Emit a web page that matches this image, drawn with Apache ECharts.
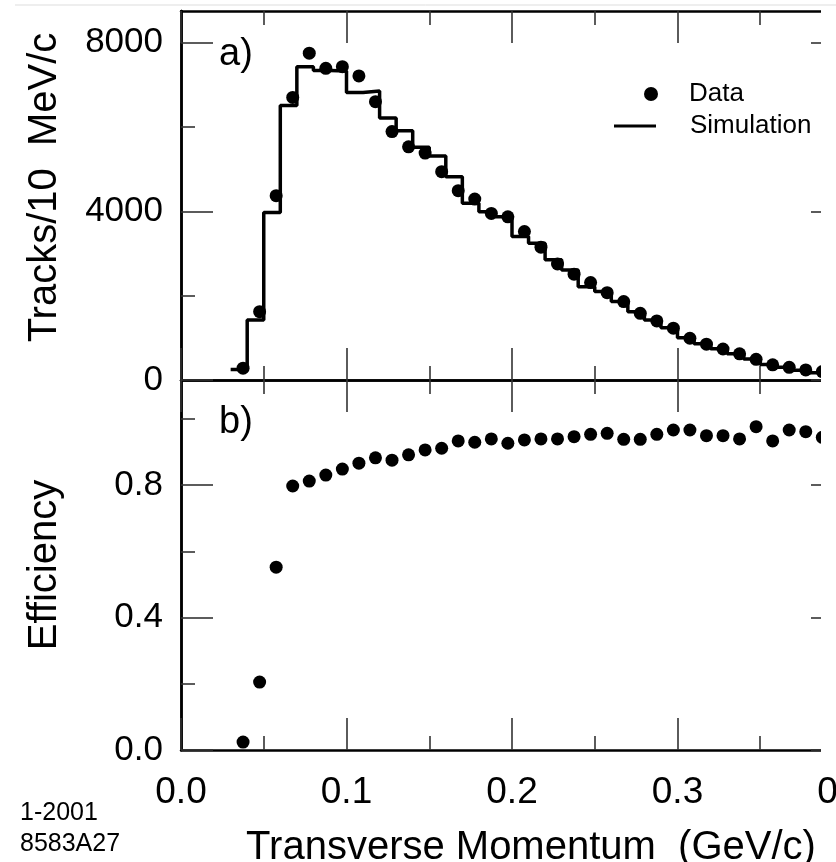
<!DOCTYPE html>
<html>
<head>
<meta charset="utf-8">
<script src="https://cdn.jsdelivr.net/npm/echarts@6/dist/echarts.min.js"></script>
<style>
  html, body { margin: 0; padding: 0; background: #fff; overflow: hidden; }
  #chart { width: 836px; height: 862px; }
</style>
</head>
<body>
<div id="chart"></div>
<script>
// bin centres (GeV/c) of the measured points
const momentum = [0.0375, 0.0475, 0.0575, 0.0675, 0.0775, 0.0875, 0.0975, 0.1075, 0.1175, 0.1275,
  0.1375, 0.1475, 0.1575, 0.1675, 0.1775, 0.1875, 0.1975, 0.2075, 0.2175, 0.2275,
  0.2375, 0.2475, 0.2575, 0.2675, 0.2775, 0.2875, 0.2975, 0.3075, 0.3175, 0.3275,
  0.3375, 0.3475, 0.3575, 0.3675, 0.3775, 0.3875]
// a) tracks per 10 MeV/c, data points
const tracks = [280, 1620, 4370, 6700, 7750, 7390, 7430, 7210, 6600, 5890,
  5530, 5380, 4940, 4490, 4290, 3950, 3870, 3520, 3150, 2750,
  2510, 2310, 2070, 1860, 1580, 1400, 1230, 990, 850, 735,
  620, 490, 360, 300, 240, 200]
// a) simulation histogram, bin edges and contents
const binEdges = [0.03, 0.04, 0.05, 0.06, 0.07, 0.08, 0.09, 0.10, 0.11, 0.12,
  0.13, 0.14, 0.15, 0.16, 0.17, 0.18, 0.19, 0.20, 0.21, 0.22,
  0.23, 0.24, 0.25, 0.26, 0.27, 0.28, 0.29, 0.30, 0.31, 0.32,
  0.33, 0.34, 0.35, 0.36, 0.37, 0.38, 0.39]
const simulation = [250, 1420, 3970, 6510, 7430, 7340, 7330, 6815, 6855, 6210,
  5910, 5520, 5310, 4820, 4190, 3990, 3870, 3400, 3240, 2850,
  2610, 2210, 2100, 1860, 1620, 1420, 1240, 1000, 860, 740,
  620, 500, 370, 300, 230, 170]
// b) efficiency
const efficiency = [0.024, 0.205, 0.552, 0.797, 0.812, 0.830, 0.848, 0.866, 0.882, 0.875,
  0.891, 0.906, 0.911, 0.933, 0.929, 0.939, 0.926, 0.936, 0.939, 0.939,
  0.946, 0.953, 0.956, 0.938, 0.938, 0.953, 0.966, 0.966, 0.949, 0.949,
  0.939, 0.976, 0.933, 0.966, 0.961, 0.944]

const tracksMajor = [0, 4000, 8000]
const tracksMinor = [2000, 6000]
const effMajor = [0, 0.4, 0.8]
const effMinor = [0.2, 0.6, 1.0]

const FONT = 'Liberation Sans, Arial, Helvetica, sans-serif'
const tickStyle = { color: '#333', width: 1.6 }
const frameStyle = { color: '#000', width: 2.5 }

function xAxisOf(grid, position, withLabels) {
  return {
    type: 'value', gridIndex: grid, position: position,
    min: 0, max: 0.4, interval: 0.1,
    axisLine: { show: true, onZero: false, lineStyle: frameStyle },
    axisTick: { show: true, inside: true, length: 32, lineStyle: tickStyle },
    minorTick: { show: true, splitNumber: 2, length: 14, lineStyle: tickStyle },
    axisLabel: {
      show: withLabels, margin: 24, fontSize: 37, color: '#000', fontFamily: FONT,
      formatter: (v) => v.toFixed(1),
    },
    splitLine: { show: false },
  }
}

function yAxisOf(grid, position, max, ticks, len, labels, fmt) {
  return {
    type: 'value', gridIndex: grid, position: position, min: 0, max: max,
    axisLine: { show: true, onZero: false, lineStyle: frameStyle },
    axisTick: { show: true, inside: true, length: len, customValues: ticks, lineStyle: tickStyle },
    axisLabel: {
      show: labels, customValues: ticks, margin: 18, fontSize: 35, color: '#000', fontFamily: FONT,
      formatter: fmt,
    },
    splitLine: { show: false },
  }
}

const chart = echarts.init(document.getElementById('chart'))

const yAxes = [
  yAxisOf(0, 'left', 8750, tracksMajor, 32, true, (v) => String(v)),
  yAxisOf(0, 'left', 8750, tracksMinor, 14, false),
  yAxisOf(0, 'right', 8750, tracksMajor, 32, false),
  yAxisOf(1, 'left', 1.117, effMajor, 32, true, (v) => v.toFixed(1)),
  yAxisOf(1, 'left', 1.117, effMinor, 14, false),
  yAxisOf(1, 'right', 1.117, effMajor, 32, false),
]
Object.assign(yAxes[0], {
  name: 'Tracks/10  MeV/c', nameLocation: 'middle', nameGap: 116,
  nameTextStyle: { fontSize: 40, color: '#000', fontFamily: FONT, padding: [0, 0, 0, 16] },
})
Object.assign(yAxes[3], {
  name: 'Efficiency', nameLocation: 'middle', nameGap: 116,
  nameTextStyle: { fontSize: 40, color: '#000', fontFamily: FONT },
})

const xAxes = [
  xAxisOf(0, 'bottom', false),
  xAxisOf(0, 'top', false),
  xAxisOf(1, 'top', false),
  xAxisOf(1, 'bottom', true),
]
Object.assign(xAxes[3], {
  name: 'Transverse Momentum  (GeV/c)', nameLocation: 'middle', nameGap: 78,
  nameTextStyle: { fontSize: 40, color: '#000', fontFamily: FONT, padding: [0, 0, 0, 38] },
})

const legendText = { fontSize: 26, color: '#000', fontFamily: FONT }

const option = {
  animation: false,
  backgroundColor: '#fff',
  grid: [
    { left: 181, top: 11, width: 662, height: 369, outerBoundsMode: 'none' },
    { left: 181, top: 380, width: 662, height: 370, outerBoundsMode: 'none' },
  ],
  xAxis: xAxes,
  yAxis: yAxes,
  legend: [
    {
      data: [{ name: 'Data', icon: 'circle' }], left: 644, top: 81, padding: 0,
      itemWidth: 14, itemHeight: 14, selectedMode: false,
      textStyle: Object.assign({ padding: [0, 0, 0, 26] }, legendText),
    },
    {
      data: [{ name: 'Simulation', icon: 'rect' }], left: 614, top: 113, padding: 0,
      itemWidth: 42, itemHeight: 3, selectedMode: false,
      textStyle: Object.assign({ padding: [0, 0, 0, 29] }, legendText),
    },
  ],
  series: [
    {
      name: 'Simulation', type: 'line', xAxisIndex: 0, yAxisIndex: 0,
      step: 'end', symbol: 'none', clip: true,
      data: binEdges.map((x, i) => [x, simulation[Math.min(i, simulation.length - 1)]]),
      lineStyle: { color: '#000', width: 3.5 }, itemStyle: { color: '#000' },
    },
    {
      name: 'Data', type: 'scatter', xAxisIndex: 0, yAxisIndex: 0,
      symbolSize: 13, z: 3,
      data: momentum.map((x, i) => [x, tracks[i]]),
      itemStyle: { color: '#000', opacity: 1 },
    },
    {
      name: 'Efficiency', type: 'scatter', xAxisIndex: 3, yAxisIndex: 3,
      symbolSize: 13,
      data: momentum.map((x, i) => [x, efficiency[i]]),
      itemStyle: { color: '#000', opacity: 1 },
    },
  ],
  graphic: [
    // the reference is cropped just right of 0.39
    { type: 'rect', z: 100, shape: { x: 821, y: 0, width: 20, height: 772 }, style: { fill: '#fff' } },
    { type: 'line', z: 101, shape: { x1: 15, y1: 5, x2: 836, y2: 5 }, style: { stroke: '#ddd', lineWidth: 1 } },
    { type: 'text', left: 219, top: 36, style: { text: 'a)', fontSize: 38, fill: '#000', fontFamily: FONT } },
    { type: 'text', left: 219, top: 404, style: { text: 'b)', fontSize: 38, fill: '#000', fontFamily: FONT } },
    { type: 'text', left: 20, top: 801, style: { text: '1-2001', fontSize: 25, fill: '#000', fontFamily: FONT } },
    { type: 'text', left: 20, top: 832, style: { text: '8583A27', fontSize: 25, fill: '#000', fontFamily: FONT } },
  ],
}

chart.setOption(option)
</script>
</body>
</html>
